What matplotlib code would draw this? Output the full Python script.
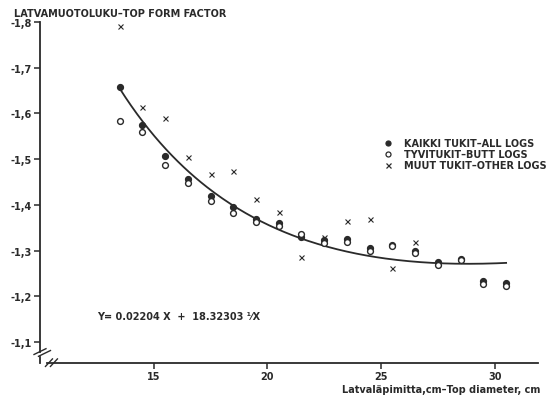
import numpy as np
import matplotlib.pyplot as plt

# top diameter classes, cm
diam = [13.5, 14.5, 15.5, 16.5, 17.5, 18.5, 19.5, 20.5, 21.5, 22.5,
        23.5, 24.5, 25.5, 26.5, 27.5, 28.5, 29.5, 30.5]
# form factor magnitudes (axis shows them as negative)
all_logs = [1.657, 1.575, 1.507, 1.456, 1.420, 1.396, 1.370, 1.360, 1.329, 1.323,
            1.325, 1.305, 1.312, 1.300, 1.275, 1.281, 1.234, 1.230]
butt_logs = [1.583, 1.560, 1.487, 1.448, 1.409, 1.382, 1.363, 1.354, 1.336, 1.316,
             1.319, 1.300, 1.309, 1.294, 1.269, 1.279, 1.227, 1.223]
other_diam = [13.5, 14.5, 15.5, 16.5, 17.5, 18.5, 19.5, 20.5, 21.5, 22.5,
              23.5, 24.5, 25.5, 26.5]
other_logs = [1.792, 1.615, 1.590, 1.505, 1.467, 1.475, 1.413, 1.385, 1.286, 1.330,
              1.365, 1.369, 1.262, 1.318]

yticks = [1.1, 1.2, 1.3, 1.4, 1.5, 1.6, 1.7, 1.8]
ytick_labels = ['-1,1', '-1,2', '-1,3', '-1,4', '-1,5', '-1,6', '-1,7', '-1,8']
xticks = [15, 20, 25, 30]

a, b = 0.02204, 18.32303
xc = np.linspace(13.5, 30.5, 200)
yc = a * xc + b / xc

ink = '#2a2a2a'
fig = plt.figure(figsize=(5.57, 4.02), dpi=100)
ax = fig.add_axes([0.0718, 0.0945, 0.894, 0.8485])

ax.plot(xc, yc, color=ink, lw=1.3)
ax.plot(diam, all_logs, 'o', ms=4.2, color=ink, mec=ink)
ax.plot(diam, butt_logs, 'o', ms=4.2, mfc='white', mec=ink, mew=1.0)
ax.plot(other_diam, other_logs, 'x', ms=3.6, color=ink, mew=0.8)

ax.set_xlim(10, 31.9)
ax.set_ylim(1.054, 1.8)

ax.spines['top'].set_visible(False)
ax.spines['right'].set_visible(False)
for s in ('left', 'bottom'):
    ax.spines[s].set_linewidth(1.3)
    ax.spines[s].set_color(ink)
ax.spines['left'].set_bounds(1.078, 1.8)
ax.spines['bottom'].set_bounds(10.3, 31.9)

# axis break marks
tr = ax.transAxes
for dx in (0.0, 0.009):
    ax.plot([-0.012 + dx, 0.012 + dx], [0.025 - dx * 0.6, 0.042 - dx * 0.6],
            transform=tr, color=ink, lw=1.0, clip_on=False)
for dx in (0.0, 0.01):
    ax.plot([0.011 + dx, 0.025 + dx], [-0.01, 0.012],
            transform=tr, color=ink, lw=1.0, clip_on=False)
ax.plot([0.0, 0.0], [0.0, 0.018], transform=tr, color=ink, lw=1.3, clip_on=False)

font = dict(fontweight='bold', color=ink, fontsize=7)
ax.set_yticks(yticks)
ax.set_yticklabels(ytick_labels, **font)
ax.set_xticks(xticks)
ax.set_xticklabels([str(t) for t in xticks], **font)
ax.tick_params(direction='out', length=4, width=1.1, color=ink, pad=2)

fig.text(0.025, 0.965, 'LATVAMUOTOLUKU\u2013TOP FORM FACTOR', ha='left', va='center', **font)
fig.text(0.97, 0.03, 'Latvaläpimitta,cm\u2013Top diameter, cm', ha='right', va='center', **font)
ax.text(12.5, 1.157, 'Y= 0.02204 X  +  18.32303 \u00b9\u2044X', ha='left', va='center', **font)

# legend drawn by hand
leg_rows = [(1.535, 'o', ink, 'KAIKKI TUKIT\u2013ALL LOGS'),
            (1.511, 'o', 'white', 'TYVITUKIT\u2013BUTT LOGS'),
            (1.486, 'x', ink, 'MUUT TUKIT\u2013OTHER LOGS')]
for y, m, fc, lab in leg_rows:
    ax.plot([25.3], [y], m, ms=3.6, mfc=fc, mec=ink, color=ink, mew=0.9)
    ax.text(26.0, y, lab, ha='left', va='center', **font)

fig.savefig('out.png', dpi=100)
